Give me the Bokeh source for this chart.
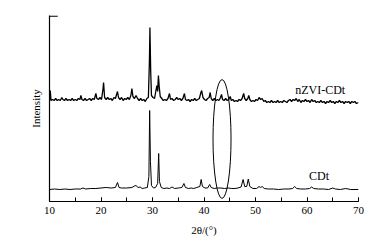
from bokeh.plotting import figure
from bokeh.models import Range1d, SingleIntervalTicker, FixedTicker, Label
from bokeh.embed import file_html
from bokeh.resources import INLINE

# ---- data (2theta in degrees, intensity in a.u.) ----
nzvi_x = [10.0, 10.15, 10.3, 10.6, 10.9, 11.2, 11.5, 11.8, 12.1, 12.4, 12.6, 12.9, 13.2, 13.5, 13.8,
          14.1, 14.4, 14.7, 15.0, 15.3, 15.6, 15.9, 16.1, 16.3, 16.6, 16.9, 17.2, 17.5, 17.8, 18.1,
          18.4, 18.7, 19.0, 19.2, 19.5, 19.8, 20.1, 20.4, 20.5, 20.7, 21.0, 21.3, 21.6, 21.9, 22.2,
          22.5, 22.8, 23.2, 23.4, 23.7, 24.0, 24.3, 24.6, 24.9, 25.2, 25.5, 25.8, 26.0, 26.2, 26.5,
          26.8, 27.1, 27.4, 27.7, 28.0, 28.3, 28.6, 28.9, 29.2, 29.4, 29.5, 29.65, 29.8, 30.1, 30.4,
          30.7, 30.85, 31.0, 31.15, 31.3, 31.5, 31.8, 32.1, 32.4, 32.7, 33.0, 33.3, 33.5, 33.8, 34.1,
          34.4, 34.7, 35.0, 35.3, 35.6, 35.9, 36.2, 36.4, 36.7, 37.0, 37.3, 37.6, 37.9, 38.2, 38.5,
          38.8, 39.1, 39.4, 39.55, 39.8, 40.1, 40.4, 40.7, 41.0, 41.2, 41.4, 41.7, 42.0, 42.3, 42.6,
          42.9, 43.2, 43.4, 43.6, 43.9, 44.2, 44.5, 44.8, 45.1, 45.3, 45.6, 45.9, 46.2, 46.5, 46.8,
          47.1, 47.4, 47.7, 47.9, 48.2, 48.5, 48.7, 48.9, 49.2, 49.5, 49.8, 50.1, 50.4, 50.7, 51.0,
          51.3, 51.6, 51.9, 52.2, 52.5, 52.8, 53.1, 53.4, 53.7, 54.0, 54.3, 54.6, 54.9, 55.2, 55.5,
          55.8, 56.1, 56.4, 56.7, 57.0, 57.3, 57.6, 57.9, 58.2, 58.5, 58.8, 59.1, 59.4, 59.7, 60.0,
          60.3, 60.6, 60.9, 61.2, 61.5, 61.8, 62.1, 62.4, 62.7, 63.0, 63.3, 63.6, 63.9, 64.2, 64.5,
          64.8, 65.1, 65.4, 65.7, 66.0, 66.3, 66.6, 66.9, 67.2, 67.5, 67.8, 68.1, 68.4, 68.7, 69.0,
          69.3, 69.6, 70.0]
nzvi_y = [100, 111, 101, 102, 101, 103, 101, 102, 101, 104, 102, 101, 103, 101, 102,
          101, 103, 101, 102, 101, 103, 102, 106, 102, 101, 103, 101, 102, 103, 101,
          103, 102, 108, 103, 102, 104, 102, 113, 119, 104, 102, 104, 102, 103, 101,
          104, 103, 110, 104, 102, 104, 101, 103, 102, 104, 102, 106, 113, 105, 103,
          106, 103, 101, 103, 101, 102, 100, 103, 104, 140, 174, 130, 106, 104, 103,
          112, 116, 110, 126, 115, 105, 103, 101, 102, 101, 103, 108, 102, 103, 101,
          102, 104, 102, 103, 101, 103, 108, 102, 101, 102, 100, 102, 101, 103, 101,
          102, 103, 109, 111, 104, 102, 101, 103, 104, 109, 103, 101, 103, 101, 102,
          101, 104, 107, 102, 101, 103, 101, 102, 105, 101, 102, 100, 101, 100, 102,
          101, 103, 108, 103, 101, 103, 106, 102, 100, 101, 100, 102, 101, 104, 102,
          103, 100, 101, 99, 100, 99, 101, 99, 100, 99, 101, 99, 100, 99, 101,
          100, 99, 101, 102, 100, 102, 101, 103, 100, 102, 99, 101, 100, 102, 100,
          101, 99, 102, 100, 101, 99, 100, 99, 101, 99, 100, 98, 100, 99, 101,
          99, 100, 98, 100, 99, 101, 99, 100, 98, 100, 99, 100, 98, 100, 99,
          100, 98, 99]

cdt_x = [10.0, 11.0, 12.0, 13.0, 14.0, 15.0, 16.0, 16.5, 17.0, 18.0, 19.0, 20.0, 21.0, 22.0, 22.8,
         23.2, 23.5, 24.0, 25.0, 26.0, 26.5, 26.8, 27.2, 27.6, 28.0, 28.5, 29.0, 29.3, 29.45, 29.6,
         29.8, 30.2, 30.6, 31.0, 31.2, 31.35, 31.7, 32.2, 32.8, 33.3, 33.8, 34.3, 35.0, 35.7, 36.1,
         36.4, 37.0, 37.5, 38.0, 38.6, 39.2, 39.45, 39.7, 40.2, 40.7, 41.1, 41.4, 42.0, 42.6, 43.3,
         44.0, 44.7, 45.4, 46.0, 46.6, 47.2, 47.6, 47.9, 48.3, 48.6, 48.9, 49.5, 50.2, 50.7, 51.0,
         51.3, 51.7, 52.5, 53.5, 54.5, 55.5, 56.5, 57.2, 57.6, 58.0, 58.8, 59.7, 60.5, 60.9, 61.3,
         62.2, 63.2, 64.2, 65.0, 65.5, 66.5, 67.5, 68.5, 69.5, 70.0]
cdt_y = [12, 12.5, 12, 12.5, 12, 12.5, 12.5, 13.5, 12.5, 13, 13, 13.5, 14, 13.5, 14,
         19, 14, 13.5, 13.5, 14, 15.5, 16, 14, 14.5, 13, 13.5, 14, 25, 91, 40,
         16, 13.5, 14, 18, 48, 20, 14, 13, 13.5, 13, 14.5, 13, 13.5, 14, 18,
         14, 13, 13.5, 13, 14, 15, 22, 15, 13.5, 13.5, 17, 14, 13, 13.5, 13.5,
         13, 13.5, 13, 13, 13.5, 14.5, 22, 15, 15, 22.5, 15, 13, 13, 15, 14,
         15, 13, 12.5, 12.5, 12, 12.5, 12.5, 13, 15, 13, 12.5, 12.5, 13, 14.5, 13,
         12.5, 12.5, 12, 13.5, 12.5, 12, 13, 12, 12, 12]

series_names = ["nZVI-CDt", "CDt"]
x_min, x_max, x_ticks_major = 10, 70, 10
y_min, y_max = 0, 186
ellipse_center = (43.5, 62.5)
ellipse_size = (3.5, 119)

SERIF = "Liberation Serif"

p = figure(width=375, height=240, output_backend="svg", toolbar_location=None,
           x_range=Range1d(x_min, x_max), y_range=Range1d(y_min, y_max),
           min_border_left=49, min_border_right=17, min_border_top=15, min_border_bottom=39)
p.outline_line_color = None
p.grid.visible = False
p.background_fill_color = "white"
p.border_fill_color = "white"

p.line(nzvi_x, nzvi_y, line_color="black", line_width=1.3)
p.line(cdt_x, cdt_y, line_color="black", line_width=1.0)
p.ellipse(x=ellipse_center[0], y=ellipse_center[1], width=ellipse_size[0], height=ellipse_size[1],
          fill_color=None, line_color="black", line_width=1.0)
# short inward tick at the top of the y axis
p.segment(x0=[x_min], y0=[y_max - 0.6], x1=[x_min + 1.6], y1=[y_max - 0.6],
          line_color="black", line_width=1.2)

# x axis
xa = p.xaxis[0]
xa.ticker = SingleIntervalTicker(interval=x_ticks_major, num_minor_ticks=2)
xa.major_tick_in = 4
xa.major_tick_out = 0
xa.minor_tick_in = 4
xa.minor_tick_out = 0
xa.major_label_standoff = 5
xa.major_label_text_font = SERIF
xa.major_label_text_font_size = "11px"
xa.major_label_text_color = "black"
xa.axis_line_color = "black"
xa.axis_line_width = 1.2
xa.axis_label = "2θ/(°)"
xa.axis_label_text_font = SERIF
xa.axis_label_text_font_size = "11px"
xa.axis_label_text_font_style = "normal"
xa.axis_label_text_color = "black"
xa.axis_label_standoff = 7

# y axis
ya = p.yaxis[0]
ya.ticker = FixedTicker(ticks=[])
ya.major_tick_line_color = None
ya.minor_tick_line_color = None
ya.axis_label = "Intensity"
ya.axis_label_text_font = SERIF
ya.axis_label_text_font_size = "11px"
ya.axis_label_text_font_style = "normal"
ya.axis_label_standoff = 8
ya.axis_label_text_color = "black"
ya.axis_line_color = "black"
ya.axis_line_width = 1.2

# series labels
p.add_layout(Label(x=57.7, y=112, text=series_names[0], text_font=SERIF, text_font_size="12px",
                   text_color="black", text_baseline="middle"))
p.add_layout(Label(x=60.4, y=25.5, text=series_names[1], text_font=SERIF, text_font_size="12px",
                   text_color="black", text_baseline="middle"))

open("out.html", "w").write(file_html(p, INLINE))
